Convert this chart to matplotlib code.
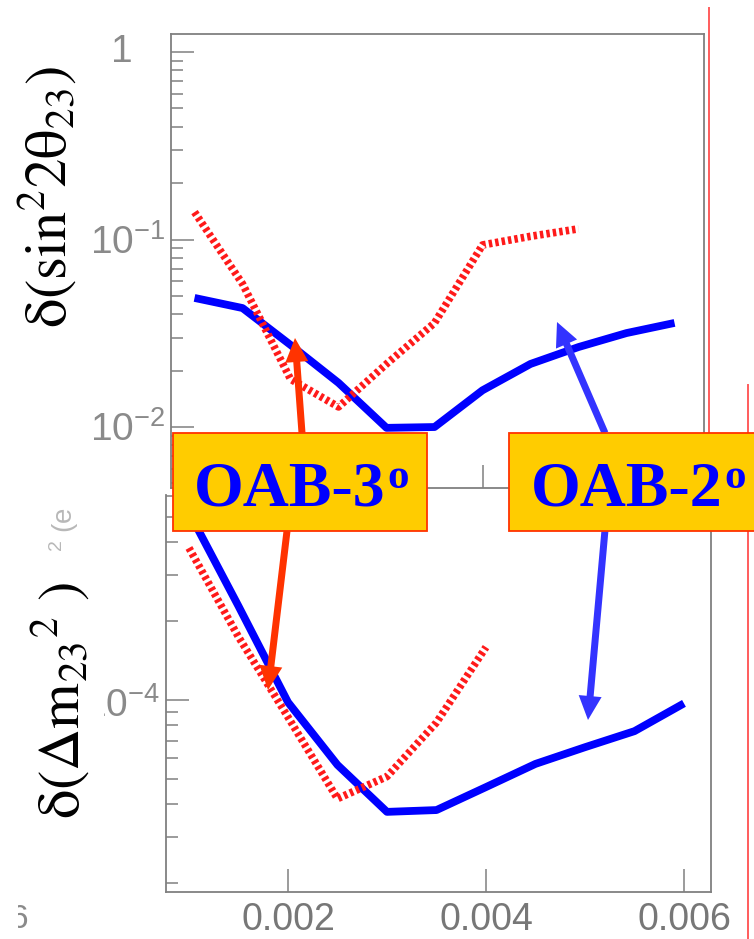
import matplotlib.pyplot as plt
from matplotlib.patches import Rectangle, FancyArrow
from matplotlib.ticker import LogLocator, NullLocator, NullFormatter

W, H = 754, 939

# resolution vs. x, two off-axis beam configurations
x_grid = [0.001, 0.0015, 0.002, 0.0025, 0.003, 0.0035, 0.004, 0.0045, 0.005, 0.0055, 0.006]
sin_oab2 = [0.0488, 0.0431, 0.0274, 0.0172, 0.0099, 0.0100, 0.0157, 0.0217, 0.0267, 0.0317, 0.0359]
x_sin_oab3 = [0.001, 0.0015, 0.002, 0.0025, 0.003, 0.0035, 0.004, 0.0045, 0.005]
sin_oab3 = [0.140, 0.058, 0.0180, 0.0128, 0.0217, 0.0359, 0.0935, 0.104, 0.114]

dm_oab2 = [5.2e-4, 2.28e-4, 9.8e-5, 5.65e-5, 3.74e-5, 3.8e-5, 4.65e-5, 5.7e-5, 6.6e-5, 7.6e-5, 9.7e-5]
x_dm_oab3 = [0.001, 0.0015, 0.002, 0.0025, 0.003, 0.0035, 0.004]
dm_oab3 = [3.8e-4, 1.74e-4, 8.6e-5, 4.2e-5, 5.1e-5, 8.2e-5, 1.59e-4]

x_ticks = [0.002, 0.004, 0.006]
x_tick_labels = ['0.002', '0.004', '0.006']

GREY = '#808080'
BLUE = '#0000ff'
RED = '#ff1a1a'

plt.rcParams['mathtext.fontset'] = 'custom'
plt.rcParams['mathtext.rm'] = 'Liberation Sans'
plt.rcParams['mathtext.it'] = 'Liberation Sans:italic'
plt.rcParams['mathtext.bf'] = 'Liberation Sans:bold'


def rect(l, t, r, b):
    return [l / W, 1 - b / H, (r - l) / W, (b - t) / H]


def style_axes(ax):
    ax.set_yscale('log')
    ax.yaxis.set_major_locator(LogLocator(base=10, numticks=12))
    ax.yaxis.set_minor_locator(LogLocator(base=10, subs=(2, 3, 4, 5, 6, 7, 8, 9), numticks=12))
    ax.yaxis.set_minor_formatter(NullFormatter())
    ax.xaxis.set_minor_locator(NullLocator())
    ax.set_xticks(x_ticks)
    ax.tick_params(which='both', direction='in', left=True, right=False, top=False,
                   bottom=True, labelleft=False, color=GREY, width=1.1)
    ax.tick_params(which='major', length=16.5)
    ax.tick_params(which='minor', length=8.5)
    for s in ax.spines.values():
        s.set_color(GREY)
        s.set_linewidth(1.3)


def dotted(ax, x, y):
    ax.plot(x, y, color=RED, lw=5.5, linestyle=(0, (0.45, 0.4)), dash_capstyle='butt')


fig = plt.figure(figsize=(W / 100, H / 100), dpi=100)

# lower panel: delta(dm^2)
ax2 = fig.add_axes(rect(166, 495, 711, 892), zorder=1)
style_axes(ax2)
ax2.spines['top'].set_visible(False)
ax2.set_xlim(0.000768, 0.006273)
ax2.set_ylim(1.85e-5, 6.05e-4)
ax2.plot(x_grid, dm_oab2, color=BLUE, lw=5.6, solid_capstyle='butt')
dotted(ax2, x_dm_oab3, dm_oab3)
ax2.set_xticklabels(x_tick_labels, family=['Liberation Sans Narrow', 'Liberation Sans'],
                    fontsize=27, color='#777777')
ax2.tick_params(axis='x', pad=7)
ax2.annotate(r'$10^{-4}$', xy=(0, 1e-4), xycoords=('axes fraction', 'data'),
             xytext=(-6, -17), textcoords='offset pixels', ha='right', va='baseline',
             fontsize=28, color='#8a8a8a', family='Liberation Sans',
             math_fontfamily='custom')

# upper panel: delta(sin^2 2theta)
ax1 = fig.add_axes(rect(171, 34, 704, 488), zorder=2)
style_axes(ax1)
ax1.set_facecolor('white')
ax1.tick_params(labelbottom=False)
ax1.set_xlim(0.000755, 0.006307)
ax1.set_ylim(0.00473, 1.247)
ax1.plot(x_grid, sin_oab2, color=BLUE, lw=5.6, solid_capstyle='butt')
dotted(ax1, x_sin_oab3, sin_oab3)
ax1.annotate('1', xy=(0, 1), xycoords=('axes fraction', 'data'),
             xytext=(-38, 0), textcoords='offset pixels', ha='right', va='center',
             fontsize=28, color='#8a8a8a', family='Liberation Sans')
for val, lab in [(0.1, r'$10^{-1}$'), (0.01, r'$10^{-2}$')]:
    ax1.annotate(lab, xy=(0, val), xycoords=('axes fraction', 'data'),
                 xytext=(-6, -14), textcoords='offset pixels', ha='right', va='baseline',
                 fontsize=28, color='#8a8a8a', family='Liberation Sans',
                 math_fontfamily='custom')

# overlay in pixel coordinates for callouts and labels
ov = fig.add_axes([0, 0, 1, 1], zorder=10)
ov.set_xlim(0, W)
ov.set_ylim(H, 0)
ov.axis('off')
ov.patch.set_alpha(0)

ov.plot([709, 709], [8, 433], color='#ff5c5c', lw=1.4)
ov.plot([748, 748], [385, H], color='#ff5c5c', lw=1.4)

# leftovers of the underlying axis labels
ov.text(28, 920, '6', ha='right', va='center', fontsize=24, color='#8a8a8a',
        family='Liberation Sans')
ov.text(64, 530, r'$^{2}$ (e', rotation=90, ha='center', va='center', fontsize=20,
        color='#b8b8b8', family='Liberation Sans')
ov.add_patch(Rectangle((0, 553), 104, 322, fc='white', ec='none', zorder=3))
ov.add_patch(Rectangle((0, 900), 18, 39, fc='white', ec='none', zorder=3))

ov.text(48, 197, r'$\mathrm{\delta(sin^{2}2\theta_{23})}$', rotation=90,
        ha='center', va='center', fontsize=42, math_fontfamily='stix', zorder=4)
ov.text(61, 700, r'$\mathrm{\delta(\Delta m_{23}{}^{2}\ )}$', rotation=90,
        ha='center', va='center', fontsize=42, math_fontfamily='stix', zorder=4)

arrow_kw = dict(width=7, head_width=23, head_length=24, length_includes_head=True,
                lw=0, zorder=5)
ov.add_patch(FancyArrow(302, 433, 295 - 302, 338 - 433, color='#ff3300', **arrow_kw))
ov.add_patch(FancyArrow(287, 531, 268 - 287, 690 - 531, color='#ff3300', **arrow_kw))
ov.add_patch(FancyArrow(605, 433, 557 - 605, 322 - 433, color='#3333ff', **arrow_kw))
ov.add_patch(FancyArrow(605, 530, 588 - 605, 720 - 530, color='#3333ff', **arrow_kw))

for (bx, bw, tx, lab) in [(173, 254, 194, 'OAB-3'), (509, 260, 531, 'OAB-2')]:
    ov.add_patch(Rectangle((bx, 433), bw, 98, fc='#ffcc00', ec='#ff3300', lw=1.3,
                           zorder=6))
    t = ov.text(tx, 505, lab, ha='left', va='baseline', fontsize=46, weight='bold',
                family='Liberation Serif', color=BLUE, zorder=7)
    ov.annotate('o', xy=(1, 1), xycoords=t, xytext=(2, 2), textcoords='offset pixels',
                ha='left', va='top', fontsize=31, weight='bold',
                family='Liberation Serif', color=BLUE, zorder=7)

fig.savefig('out.png', dpi=100)
